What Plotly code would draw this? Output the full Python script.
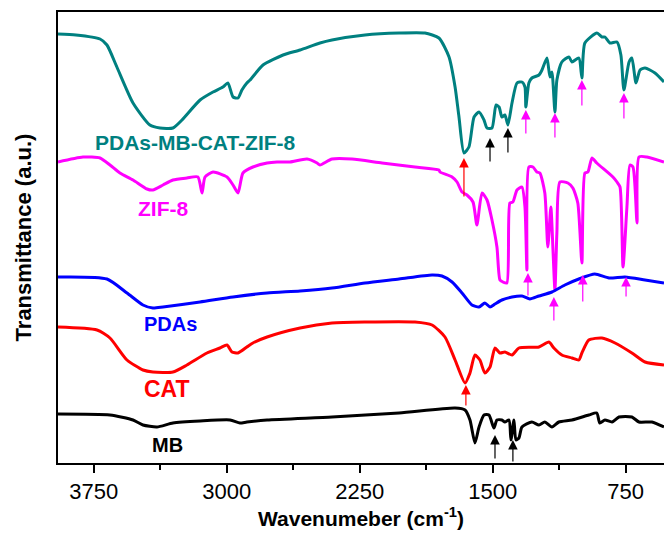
import plotly.graph_objects as go

# FTIR spectra, stacked with vertical offsets (transmittance in arbitrary units)
wn_hybrid = [3951, 3850, 3714, 3675, 3619, 3528, 3433, 3376, 3303, 3252, 3150, 3077, 3021, 2993, 2964,
             2936, 2914, 2886, 2868, 2795, 2682, 2586, 2474, 2406, 2220, 2028, 1882, 1803, 1746, 1712,
             1690, 1662, 1634, 1605, 1577, 1549, 1532, 1504, 1481, 1464, 1448, 1431, 1414, 1391, 1363,
             1335, 1318, 1313, 1296, 1279, 1239, 1222, 1194, 1177, 1166, 1149, 1138, 1110, 1070, 1053,
             1014, 997, 980, 912, 884, 867, 839, 799, 777, 760, 731, 715, 692, 669, 641, 585, 534]
t_hybrid = [429, 428, 424, 418, 396, 360, 338, 335, 335, 343, 363, 371, 376, 380, 366,
            365, 373, 380, 383, 398, 408, 413, 420, 423, 428, 430, 430, 425, 406, 376,
            346, 310, 316, 346, 351, 343, 335, 335, 358, 356, 346, 348, 338, 360, 380,
            381, 376, 356, 380, 385, 388, 393, 405, 386, 391, 351, 383, 401, 406, 401,
            405, 385, 420, 430, 426, 426, 420, 421, 408, 373, 401, 405, 380, 393, 395, 390, 381]

wn_zif8 = [3951, 3810, 3714, 3658, 3602, 3528, 3449, 3416, 3359, 3303, 3224, 3162, 3139, 3122, 3077,
           2998, 2964, 2936, 2908, 2852, 2772, 2716, 2643, 2547, 2490, 2474, 2406, 2293, 2124, 1938,
           1803, 1797, 1729, 1701, 1673, 1645, 1611, 1589, 1560, 1532, 1504, 1476, 1459, 1442, 1420,
           1403, 1386, 1363, 1335, 1318, 1307, 1296, 1273, 1251, 1234, 1206, 1189, 1172, 1160, 1149,
           1138, 1121, 1076, 1048, 1020, 997, 980, 963, 940, 913, 822, 799, 782, 765, 743,
           726, 709, 686, 675, 630, 534]
t_zif8 = [301, 306, 305, 298, 290, 283, 274, 273, 278, 283, 285, 286, 270, 286, 291,
          286, 278, 270, 290, 296, 300, 301, 301, 304, 300, 298, 304, 304, 300, 296,
          293, 291, 286, 281, 271, 268, 261, 238, 270, 263, 243, 216, 183, 181, 180,
          260, 261, 273, 276, 256, 193, 296, 296, 291, 290, 270, 216, 256, 213, 173,
          230, 281, 280, 275, 260, 200, 290, 291, 305, 300, 286, 281, 276, 196, 256,
          298, 296, 240, 306, 306, 301]

wn_pdas = [3951, 3675, 3562, 3472, 3416, 3359, 3150, 2964, 2772, 2586, 2406, 2220, 2028, 1842, 1786,
           1729, 1673, 1617, 1577, 1544, 1515, 1487, 1448, 1391, 1335, 1290, 1239, 1166, 1093, 1014,
           924, 844, 754, 641, 534]
t_pdas = [186, 184, 170, 158, 155, 156, 161, 166, 170, 172, 175, 180, 184, 188, 187,
          181, 170, 158, 156, 160, 156, 159, 163, 166, 167, 164, 167, 171, 178, 184,
          189, 185, 186, 183, 180]

wn_cat = [3951, 3731, 3658, 3562, 3472, 3416, 3303, 3224, 3111, 3038, 2998, 2970, 2936, 2886, 2852,
          2772, 2586, 2406, 2220, 1938, 1842, 1769, 1712, 1656, 1628, 1600, 1572, 1544, 1515, 1487,
          1459, 1431, 1391, 1352, 1239, 1183, 1155, 1110, 1053, 1014, 997, 958, 884, 810, 715,
          641, 534]
t_cat = [136, 133, 125, 103, 93, 91, 91, 98, 110, 115, 118, 111, 110, 116, 120,
         126, 135, 140, 141, 141, 138, 126, 103, 80, 90, 108, 103, 90, 96, 115,
         110, 111, 108, 115, 116, 121, 115, 108, 105, 103, 110, 123, 125, 120, 110,
         101, 98]

wn_mb = [3951, 3658, 3528, 3472, 3393, 3303, 3150, 2981, 2925, 2886, 2772, 2406, 2028, 1712, 1656,
         1628, 1600, 1577, 1549, 1521, 1493, 1476, 1448, 1431, 1408, 1397, 1380, 1369, 1352, 1335,
         1279, 1239, 1206, 1166, 1127, 1053, 958, 913, 896, 867, 827, 788, 715, 675, 602, 534]
t_mb = [49, 48, 43, 38, 36, 40, 42, 43, 40, 41, 43, 46, 50, 55, 53,
        43, 20, 36, 48, 48, 35, 43, 43, 41, 43, 23, 43, 23, 25, 36,
        41, 38, 41, 36, 41, 43, 48, 50, 40, 43, 41, 46, 46, 41, 41, 36]

series_names = ["PDAs-MB-CAT-ZIF-8", "ZIF-8", "PDAs", "CAT", "MB"]
series_colors = ["#008080", "#ff00ff", "#0000ff", "#ff0000", "#000000"]
series_x = [wn_hybrid, wn_zif8, wn_pdas, wn_cat, wn_mb]
series_y = [t_hybrid, t_zif8, t_pdas, t_cat, t_mb]

# label anchor (wavenumber, transmittance) and font size for each curve
label_x = [3178, 3359, 3319, 3336, 3336]
label_y = [321, 255, 139, 74, 18]
label_size = [21, 21, 20, 23, 20]

# band markers: (wavenumber, tip, tail, colour)
arrow_wn = [1662, 1515, 1414, 1313, 1149, 997, 760, 1301, 1155, 992, 748, 1651, 1487, 1386]
arrow_tip = [305, 325, 335, 353, 350, 383, 370, 190, 166, 188, 186, 78, 28, 23]
arrow_tail = [265, 300, 309, 328, 324, 356, 343, 166, 141, 160, 165, 56, 3, 0]
arrow_color = ["#ff0000", "#000000", "#000000", "#ff00ff", "#ff00ff", "#ff00ff", "#ff00ff",
               "#ff00ff", "#ff00ff", "#ff00ff", "#ff00ff", "#ff0000", "#000000", "#000000"]

fig = go.Figure()
for name, color, xs, ys in zip(series_names, series_colors, series_x, series_y):
    fig.add_trace(go.Scatter(x=xs, y=ys, mode="lines", name=name,
                             line=dict(color=color, width=3, shape="spline", smoothing=0.6)))

for name, color, lx, ly, fs in zip(series_names, series_colors, label_x, label_y, label_size):
    fig.add_annotation(x=lx, y=ly, text=f"<b>{name}</b>", showarrow=False,
                       font=dict(family="Liberation Sans, Arial", size=fs, color=color),
                       xanchor="center", yanchor="middle")

for x, tip, tail, c in zip(arrow_wn, arrow_tip, arrow_tail, arrow_color):
    fig.add_annotation(x=x, y=tip, ax=x, ay=tail, axref="x", ayref="y", text="",
                       showarrow=True, arrowhead=2, arrowsize=1.6, arrowwidth=1.2,
                       arrowcolor=c)

font = dict(family="Liberation Sans, Arial", color="#000000")
fig.update_layout(
    width=664, height=533,
    margin=dict(l=58, r=0, t=12, b=70),
    paper_bgcolor="white", plot_bgcolor="white",
    showlegend=False,
    font=font,
)
fig.update_xaxes(
    range=[3951, 534], tick0=750, dtick=750,
    ticks="outside", ticklen=8, tickwidth=2, tickcolor="black",
    minor=dict(dtick=375, tick0=375, ticks="outside", ticklen=5, tickwidth=2, tickcolor="black"),
    showline=True, linewidth=2, linecolor="black", mirror=True,
    showgrid=False, zeroline=False,
    tickfont=dict(family="Liberation Sans, Arial", size=22, color="black"),
    title=dict(text="<b>Wavenumeber (cm<sup>-1</sup>)</b>", standoff=6,
               font=dict(family="Liberation Sans, Arial", size=21, color="black")),
)
fig.update_yaxes(
    range=[0, 451], showticklabels=False, ticks="",
    showline=True, linewidth=2, linecolor="black",
    showgrid=False, zeroline=False,
    title=dict(text="<b>Transmittance (a.u.)</b>", standoff=18,
               font=dict(family="Liberation Sans, Arial", size=22, color="black")),
)

fig.write_html("out.html")
